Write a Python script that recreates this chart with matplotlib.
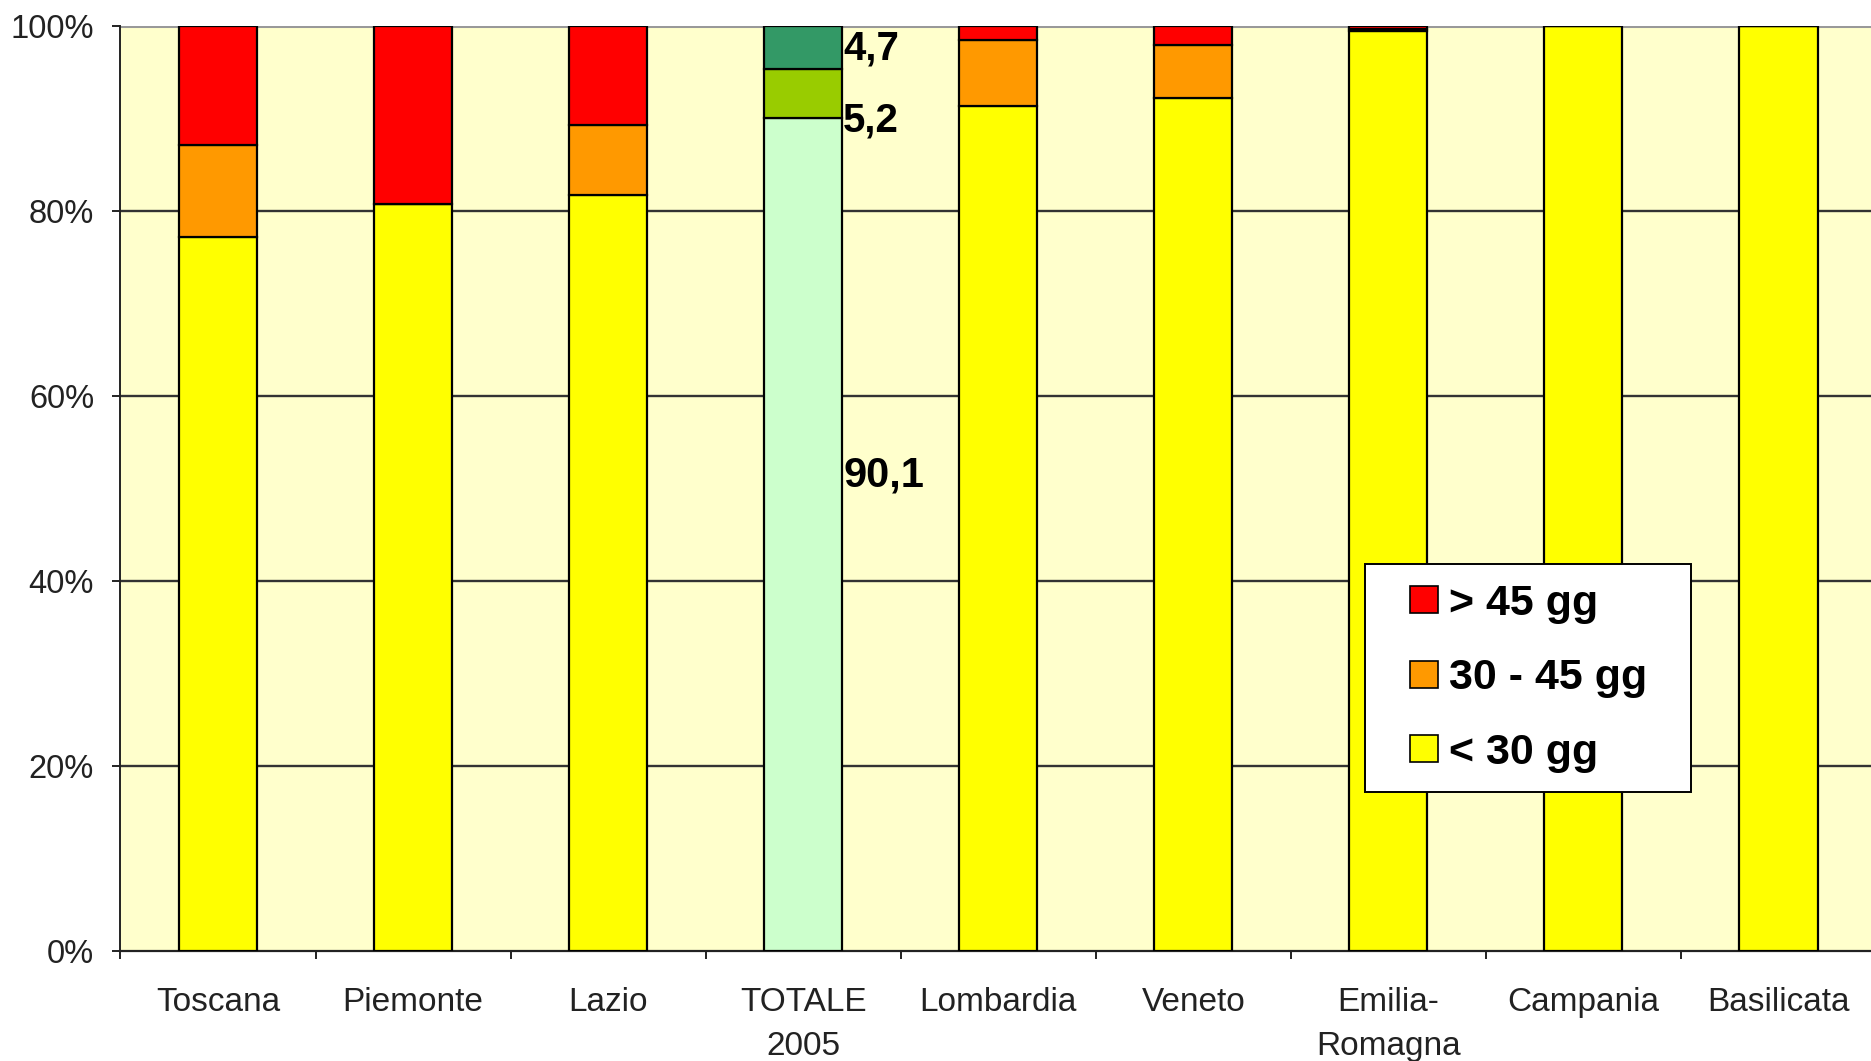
import matplotlib
matplotlib.use("Agg")
import matplotlib.pyplot as plt
from matplotlib.patches import Patch, Rectangle
from matplotlib.legend_handler import HandlerPatch
import numpy as np

plt.rcParams['font.family'] = ['Liberation Sans', 'DejaVu Sans']

categories = ["Toscana", "Piemonte", "Lazio", "TOTALE\n2005", "Lombardia",
              "Veneto", "Emilia-\nRomagna", "Campania", "Basilicata"]
lt30 = [77.2, 80.8, 81.7, 90.1, 91.4, 92.2, 99.5, 100.0, 100.0]
mid3045 = [9.9, 0.0, 7.6, 5.2, 7.1, 5.8, 0.2, 0.0, 0.0]
gt45 = [12.9, 19.2, 10.7, 4.7, 1.5, 2.0, 0.3, 0.0, 0.0]
total_labels = ["90,1", "5,2", "4,7"]
series_names = ["> 45 gg", "30 - 45 gg", "< 30 gg"]

RED, ORANGE, YELLOW = "#FF0000", "#FF9900", "#FFFF00"
TOT_COLS = ["#CCFFCC", "#99CC00", "#339966"]
tot_idx = 3

W, H = 1871, 1061
fig = plt.figure(figsize=(W / 100, H / 100), dpi=100)
left, right = 120.5 / W, (120.5 + 9 * 195.06) / W
bottom, top = 1 - 951 / H, 1 - 26 / H
ax = fig.add_axes([left, bottom, right - left, top - bottom])
ax.set_facecolor("#FFFFCC")

x = np.arange(len(categories)) + 0.5
c1 = [YELLOW] * len(x); c2 = [ORANGE] * len(x); c3 = [RED] * len(x)
c1[tot_idx], c2[tot_idx], c3[tot_idx] = TOT_COLS
lt = np.array(lt30); md = np.array(mid3045); gt = np.array(gt45)
bw = 0.40
kw = dict(width=bw, edgecolor="black", linewidth=1.6, zorder=3)
ax.bar(x, lt, color=c1, **kw)
ax.bar(x, md, bottom=lt, color=c2, **kw)
ax.bar(x, gt, bottom=lt + md, color=c3, **kw)

# grid
for yv in [20, 40, 60, 80]:
    ax.axhline(yv, color="#333333", linewidth=1.7, zorder=1)
ax.axhline(100, color="#999999", linewidth=2.2, zorder=1)

ax.set_xlim(0, 9)
ax.set_ylim(0, 100)
for s in ["top", "right"]:
    ax.spines[s].set_visible(False)
ax.spines["left"].set_color("#222222")
ax.spines["bottom"].set_color("#222222")
ax.spines["left"].set_linewidth(1.4)
ax.spines["bottom"].set_linewidth(1.6)

ax.set_yticks([0, 20, 40, 60, 80, 100])
ax.set_yticklabels(["0%", "20%", "40%", "60%", "80%", "100%"], fontsize=23.5, color="#222222")
ax.tick_params(axis="y", direction="out", length=6, width=1.4, pad=13, color="#222222")

ax.set_xticks(np.arange(0, 10))
ax.set_xticklabels([])
ax.tick_params(axis="x", which="major", direction="out", length=6, width=1.4, color="#222222")
ax.set_xticks(x, minor=True)
ax.set_xticklabels(categories, minor=True, fontsize=24, color="#222222", linespacing=1.55)
ax.tick_params(axis="x", which="minor", length=0, pad=26)

# data labels on TOTALE bar
lab_y = [51.4, 89.8, 97.6]
for t, yv in zip(total_labels, lab_y):
    ax.text(x[tot_idx] + bw / 2 + 0.005, yv, t, fontsize=29 if t != "90,1" else 30,
            fontweight="bold", ha="left", va="center", zorder=5,
            family=['Liberation Sans Narrow', 'Liberation Sans', 'DejaVu Sans'])


def square_patch(legend, orig_handle, xdescent, ydescent, width, height, fontsize):
    sq = 0.63 * fontsize
    return Rectangle((-xdescent + width - sq, -ydescent + (height - sq) / 2), sq, sq)


handles = [Patch(facecolor=RED, edgecolor="black", linewidth=1.2),
           Patch(facecolor=ORANGE, edgecolor="black", linewidth=1.2),
           Patch(facecolor=YELLOW, edgecolor="black", linewidth=1.2)]
leg_w = 326 / (9 * 195.06)
leg = ax.legend(handles, series_names, loc="upper left", mode="expand",
                bbox_to_anchor=(0.709, 0.418, leg_w, 0.0), fancybox=False, shadow=False,
                frameon=True, framealpha=1, edgecolor="black",
                prop=dict(size=31, weight="bold"), handlelength=1.23, handleheight=0.7,
                handletextpad=0.26, labelspacing=0.8, borderpad=0.45, borderaxespad=0,
                handler_map={Patch: HandlerPatch(patch_func=square_patch)})
leg.get_frame().set_linewidth(1.4)
leg.set_zorder(10)

fig.savefig("out.png", dpi=100, facecolor="white")
